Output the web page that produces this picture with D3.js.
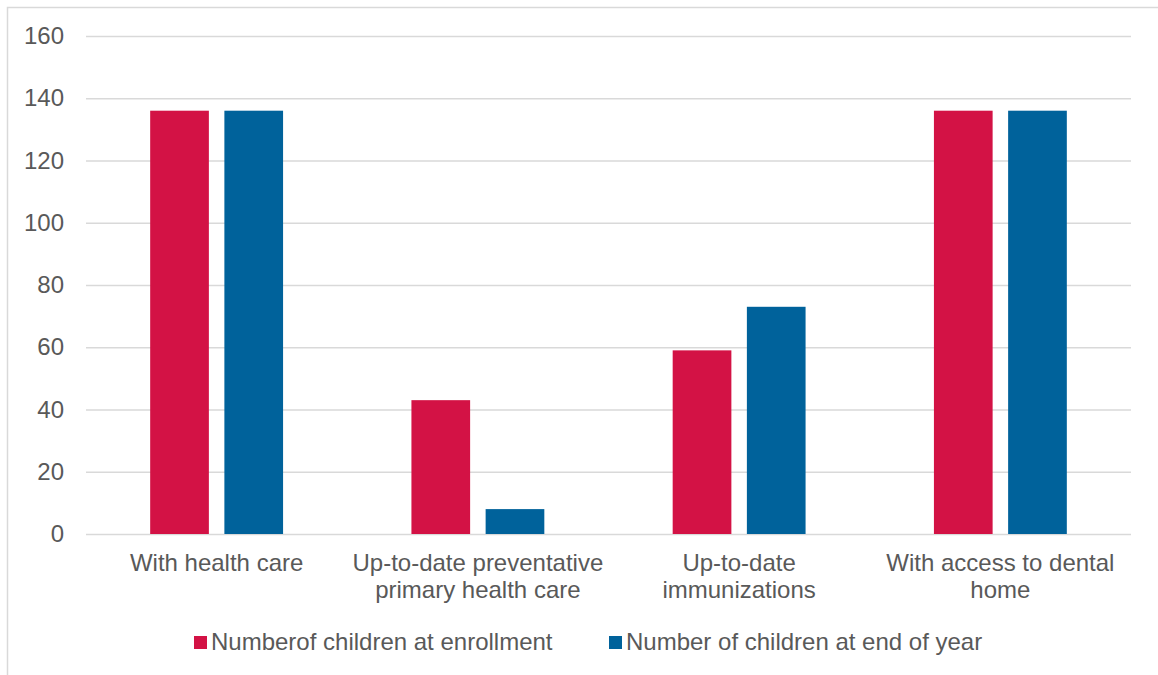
<!DOCTYPE html>
<html>
<head>
<meta charset="utf-8">
<script src="https://cdn.jsdelivr.net/npm/d3@7"></script>
<style>
  html, body { margin: 0; padding: 0; background: #fff; }
  svg { display: block; font-family: "Liberation Sans", Arial, sans-serif; }
</style>
</head>
<body>
<svg id="chart" width="1158" height="675"></svg>
<script>
// Health status counts per indicator
const categories = [
  ["With health care"],
  ["Up-to-date preventative", "primary health care"],
  ["Up-to-date", "immunizations"],
  ["With access to dental", "home"]
];
const seriesNames = ["Numberof children at enrollment", "Number of children at end of year"];
const enrollment = [136, 43, 59, 136];
const endOfYear = [136, 8, 73, 136];
const yTicks = [0, 20, 40, 60, 80, 100, 120, 140, 160];
const colors = ["#D31245", "#00629B"];

const svg = d3.select("#chart");
const W = 1158, H = 675;
const plot = { left: 86, right: 1131, top: 36, bottom: 534 };
const textColor = "#595959";
const gridColor = "#d9d9d9";

// outer chart frame (extends past the right and bottom edges)
svg.append("rect")
  .attr("x", 7.5).attr("y", 7.5)
  .attr("width", W + 20).attr("height", H + 20)
  .attr("fill", "none").attr("stroke", gridColor).attr("stroke-width", 1.5);

const y = d3.scaleLinear().domain([0, 160]).range([plot.bottom, plot.top]);
const catIdx = categories.map((d, i) => i);
const x0 = d3.scaleBand().domain(catIdx).range([plot.left, plot.right]).padding(0);
const x1 = d3.scaleBand().domain([0, 1]).range([0, x0.bandwidth()])
  .paddingInner(0.209).paddingOuter(0.865);

// gridlines and value labels via axis
const yAxis = d3.axisLeft(y).tickValues(yTicks).tickSize(-(plot.right - plot.left)).tickPadding(22);
const gy = svg.append("g").attr("transform", `translate(${plot.left},0)`).call(yAxis);
gy.select(".domain").remove();
gy.selectAll(".tick line").attr("stroke", gridColor).attr("stroke-width", 1.5);
gy.selectAll(".tick text")
  .attr("fill", textColor).attr("font-size", 24)
  .attr("font-family", "Liberation Sans, Arial, sans-serif");

// bars
const rows = catIdx.map(i => [enrollment[i], endOfYear[i]]);
const groups = svg.append("g").selectAll("g").data(rows).join("g")
  .attr("transform", (d, i) => `translate(${x0(i)},0)`);
groups.selectAll("rect").data(d => d.map((v, s) => ({ v, s }))).join("rect")
  .attr("x", d => x1(d.s))
  .attr("width", x1.bandwidth())
  .attr("y", d => y(d.v))
  .attr("height", d => y(0) - y(d.v))
  .attr("fill", d => colors[d.s]);

// category labels
const xl = svg.append("g");
categories.forEach((lines, i) => {
  const t = xl.append("text")
    .attr("text-anchor", "middle")
    .attr("fill", textColor).attr("font-size", 24);
  lines.forEach((ln, k) => {
    t.append("tspan")
      .attr("x", x0(i) + x0.bandwidth() / 2)
      .attr("y", 571 + k * 26.5)
      .text(ln);
  });
});

// legend
const legendX = [194, 609];
const lg = svg.append("g");
seriesNames.forEach((name, s) => {
  lg.append("rect")
    .attr("x", legendX[s]).attr("y", 636)
    .attr("width", 13).attr("height", 13)
    .attr("fill", colors[s]);
  lg.append("text")
    .attr("x", legendX[s] + 17).attr("y", 650)
    .attr("fill", textColor).attr("font-size", 24)
    .text(name);
});
</script>
</body>
</html>
